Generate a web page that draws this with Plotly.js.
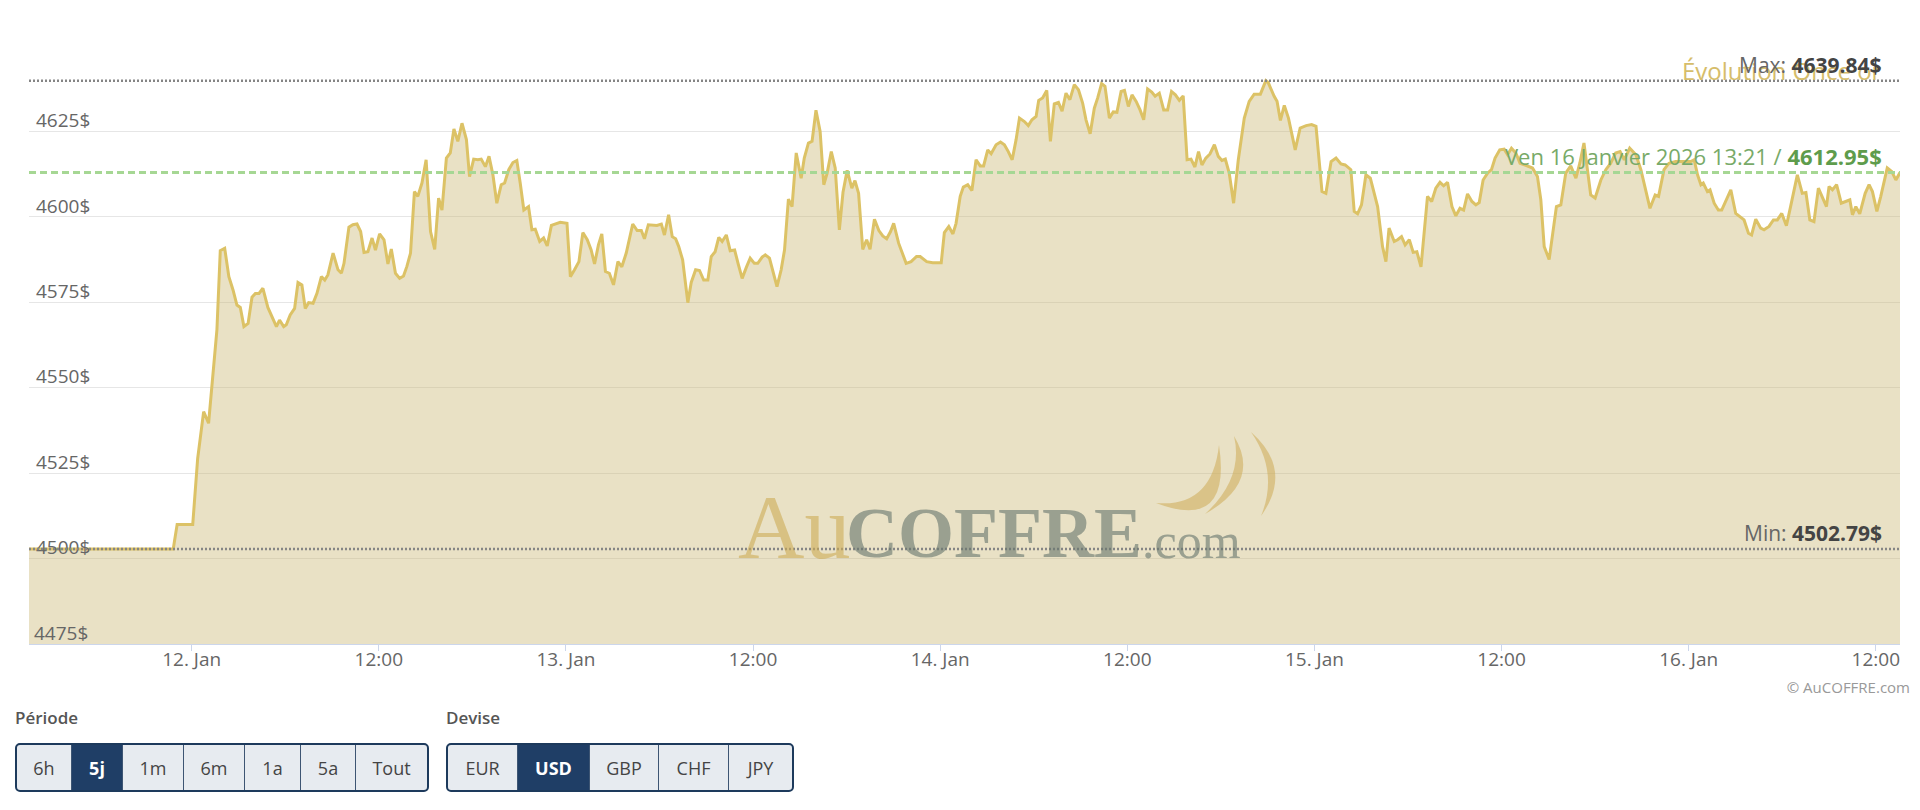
<!DOCTYPE html>
<html><head><meta charset="utf-8">
<script src="https://cdn.plot.ly/plotly-3.0.1.min.js"></script>
<style>
body{margin:0;width:1920px;height:810px;overflow:hidden;background:#fff;font-family:"Open Sans",sans-serif;}
#chart{position:absolute;left:0;top:0;width:1920px;height:810px;}
.lbl{position:absolute;top:706px;font-size:17px;font-weight:600;color:#555;}
.grp{position:absolute;top:743px;height:45px;border:2px solid #1d3a5c;border-radius:5px;display:flex;overflow:hidden;background:#e7ebf0;}
.grp div{display:flex;align-items:center;justify-content:center;font-size:18px;color:#444;border-left:1px solid #3d5573;box-sizing:border-box;height:45px;}
.grp div:first-child{border-left:none;}
.grp div.on{background:#1f3e66;color:#fff;font-weight:700;}
#copy{position:absolute;right:10px;top:677px;font-size:15px;color:#999;}
</style></head>
<body>
<div id="chart"></div>
<div class="lbl" style="left:15px">Période</div>
<div class="lbl" style="left:446px">Devise</div>
<div class="grp" id="g1" style="left:15px"></div>
<div class="grp" id="g2" style="left:446px"></div>
<div id="copy">© AuCOFFRE.com</div>
<script>
// ---- data ----
const times = [
'01-11 13:34','01-11 22:49','01-11 23:04','01-12 00:04','01-12 00:23','01-12 00:46','01-12 01:05','01-12 01:37','01-12 01:50','01-12 02:07',
'01-12 02:23','01-12 02:39','01-12 02:54','01-12 03:07','01-12 03:21','01-12 03:37','01-12 03:52','01-12 04:05','01-12 04:19','01-12 04:34',
'01-12 04:53','01-12 05:10','01-12 05:26','01-12 05:38','01-12 05:54','01-12 06:04','01-12 06:19','01-12 06:36','01-12 06:49','01-12 07:04',
'01-12 07:17','01-12 07:30','01-12 07:47','01-12 08:02','01-12 08:19','01-12 08:32','01-12 08:44','01-12 09:04','01-12 09:23','01-12 09:36',
'01-12 09:46','01-12 10:05','01-12 10:20','01-12 10:36','01-12 10:50','01-12 11:03','01-12 11:18','01-12 11:34','01-12 11:47','01-12 12:03',
'01-12 12:20','01-12 12:35','01-12 12:48','01-12 13:04','01-12 13:20','01-12 13:35','01-12 13:48','01-12 14:02','01-12 14:17','01-12 14:30',
'01-12 14:46','01-12 15:02','01-12 15:19','01-12 15:35','01-12 15:50','01-12 16:03','01-12 16:20','01-12 16:35','01-12 16:49','01-12 17:04',
'01-12 17:20','01-12 17:37','01-12 17:49','01-12 18:05','01-12 18:21','01-12 18:34','01-12 18:50','01-12 19:04','01-12 19:19','01-12 19:34',
'01-12 19:51','01-12 20:04','01-12 20:20','01-12 20:36','01-12 20:51','01-12 21:04','01-12 21:18','01-12 21:36','01-12 21:49','01-12 22:02',
'01-12 22:19','01-12 22:34','01-12 22:48','01-12 23:04','01-12 23:23','01-12 23:38',
'01-13 00:04','01-13 00:17','01-13 00:33','01-13 00:50','01-13 01:05','01-13 01:22','01-13 01:37','01-13 01:50','01-13 02:05','01-13 02:18',
'01-13 02:32','01-13 02:47','01-13 03:03','01-13 03:20','01-13 03:35','01-13 03:52','01-13 04:17','01-13 04:34','01-13 04:50','01-13 05:02',
'01-13 05:17','01-13 05:34','01-13 05:50','01-13 06:07','01-13 06:19','01-13 06:35','01-13 06:49','01-13 07:02','01-13 07:14','01-13 07:29',
'01-13 07:49','01-13 08:02','01-13 08:19','01-13 08:34','01-13 08:50','01-13 09:06','01-13 09:19','01-13 09:34','01-13 09:48','01-13 10:01',
'01-13 10:17','01-13 10:32','01-13 10:49','01-13 11:04','01-13 11:18','01-13 11:34','01-13 11:49','01-13 12:05','01-13 12:18','01-13 12:35',
'01-13 12:47','01-13 13:03','01-13 13:19','01-13 13:32','01-13 13:48','01-13 14:01','01-13 14:16','01-13 14:30','01-13 14:46','01-13 15:05',
'01-13 15:17','01-13 15:33','01-13 15:47','01-13 16:02','01-13 16:18','01-13 16:32','01-13 16:45','01-13 17:01','01-13 17:16','01-13 17:32',
'01-13 17:46','01-13 18:02','01-13 18:20','01-13 18:32','01-13 18:46','01-13 19:02','01-13 19:17','01-13 19:30','01-13 19:47','01-13 20:04',
'01-13 20:19','01-13 20:34','01-13 20:49','01-13 21:01','01-13 21:20','01-13 21:49','01-13 22:08','01-13 22:29','01-13 22:43','01-13 23:08',
'01-13 23:31',
'01-14 00:04','01-14 00:16','01-14 00:33','01-14 00:49','01-14 01:01','01-14 01:17','01-14 01:29','01-14 01:46','01-14 02:02','01-14 02:18',
'01-14 02:34','01-14 02:47','01-14 03:03','01-14 03:16','01-14 03:35','01-14 03:52','01-14 04:07','01-14 04:22','01-14 04:37','01-14 04:52',
'01-14 05:05','01-14 05:24','01-14 05:39','01-14 05:53','01-14 06:09','01-14 06:19','01-14 06:34','01-14 06:50','01-14 07:04','01-14 07:19',
'01-14 07:35','01-14 07:49','01-14 08:04','01-14 08:19','01-14 08:36','01-14 08:52','01-14 09:08','01-14 09:21','01-14 09:37','01-14 09:53',
'01-14 10:06','01-14 10:21','01-14 10:34','01-14 10:51','01-14 11:06','01-14 11:20','01-14 11:36','01-14 11:49','01-14 12:04','01-14 12:18',
'01-14 12:34','01-14 12:49','01-14 13:03','01-14 13:18','01-14 13:34','01-14 13:47','01-14 14:03','01-14 14:20','01-14 14:35','01-14 14:50',
'01-14 15:05','01-14 15:20','01-14 15:35','01-14 15:50','01-14 16:05','01-14 16:20','01-14 16:34','01-14 16:47','01-14 17:02','01-14 17:18',
'01-14 17:35','01-14 17:50','01-14 18:04','01-14 18:17','01-14 18:32','01-14 18:49','01-14 19:07','01-14 19:30','01-14 19:49','01-14 20:08',
'01-14 20:32','01-14 20:53','01-14 21:02','01-14 21:25','01-14 21:36','01-14 21:49','01-14 22:04','01-14 22:20','01-14 22:46','01-14 23:05',
'01-14 23:28','01-14 23:49',
'01-15 00:06','01-15 00:29','01-15 00:44','01-15 01:04','01-15 01:23','01-15 01:42','01-15 01:58','01-15 02:20','01-15 02:33','01-15 02:46',
'01-15 03:01','01-15 03:18','01-15 03:35','01-15 04:03','01-15 04:22','01-15 04:35','01-15 04:47','01-15 05:07','01-15 05:20','01-15 05:35',
'01-15 05:49','01-15 06:05','01-15 06:20','01-15 06:34','01-15 06:50','01-15 07:15','01-15 07:31','01-15 07:47','01-15 08:03','01-15 08:17',
'01-15 08:32','01-15 08:49','01-15 09:04','01-15 09:20','01-15 09:34','01-15 09:49','01-15 10:06','01-15 10:21','01-15 10:34','01-15 10:49',
'01-15 11:06','01-15 11:21','01-15 11:35','01-15 11:53','01-15 12:10','01-15 12:23','01-15 12:38','01-15 12:55','01-15 13:11','01-15 13:59',
'01-15 14:18','01-15 14:31','01-15 14:44','01-15 15:03','01-15 15:31','01-15 15:48','01-15 16:07','01-15 16:26','01-15 16:46','01-15 17:01',
'01-15 17:17','01-15 17:43','01-15 18:00','01-15 18:22','01-15 18:41','01-15 19:00','01-15 19:19','01-15 19:36','01-15 19:52','01-15 20:13',
'01-15 20:37','01-15 20:56','01-15 21:31','01-15 21:51','01-15 22:04','01-15 22:25','01-15 22:44','01-15 23:10','01-15 23:36',
'01-16 00:08','01-16 00:21','01-16 00:34','01-16 00:47','01-16 00:56','01-16 01:12','01-16 01:22','01-16 01:38','01-16 01:54','01-16 02:07',
'01-16 02:25','01-16 02:42','01-16 03:01','01-16 03:18','01-16 03:33','01-16 03:50','01-16 04:02','01-16 04:18','01-16 04:37','01-16 04:50',
'01-16 05:09','01-16 05:26','01-16 05:41','01-16 05:58','01-16 06:16','01-16 06:32','01-16 06:58','01-16 07:17','01-16 07:31','01-16 07:46',
'01-16 08:02','01-16 08:19','01-16 08:34','01-16 08:50','01-16 09:00','01-16 09:13','01-16 09:29','01-16 09:47','01-16 10:04','01-16 10:20',
'01-16 10:30','01-16 10:43','01-16 10:58','01-16 11:19','01-16 11:34','01-16 11:47','01-16 12:04','01-16 12:19','01-16 12:44','01-16 13:01',
'01-16 13:17','01-16 13:33'
];
const prices = [
4502.79,4502.79,4510,4510,4529.3,4543,4539.6,4566.9,4590.1,4590.8,
4582.5,4578.6,4574.2,4573.5,4567.9,4568.8,4576.5,4577.6,4577.6,4579.1,
4573.5,4570.8,4567.9,4569.8,4567.9,4568.4,4571.3,4573.2,4580.8,4580.1,
4573.2,4574.9,4574.7,4577.6,4582.5,4581.5,4583,4589.4,4584.5,4583.5,
4586.4,4597,4597.7,4597.9,4595.7,4589.6,4589.8,4593.8,4590.3,4595,
4593.3,4586.2,4590.6,4583.5,4582,4582.7,4585.5,4589.4,4607.4,4606,
4609.9,4616.7,4595.7,4590.5,4605.5,4602,4617.2,4618.7,4625.7,4622.1,
4627.4,4622.6,4611.8,4616.9,4616.7,4616.9,4614.7,4617.7,4612.3,4604,
4609.4,4609.9,4613.8,4615.9,4616.5,4609.9,4602,4603,4596.2,4596.4,
4592.8,4593.8,4591.5,4597.5,4598.1,4598.4,
4598.1,4582.5,4584.5,4586.9,4595.4,4593.3,4590.3,4586.2,4591.8,4595,
4584,4583.5,4580.1,4586.9,4585.4,4589.4,4597.9,4596,4596,4593.6,
4597.7,4597.5,4597.5,4597.9,4594.7,4600.6,4594.2,4593.6,4591.3,4587.4,
4574.9,4580.8,4584.5,4584.3,4581.5,4581.5,4588.4,4589.8,4594,4592.8,
4594.7,4590.1,4590.3,4585.9,4582,4585.2,4587.9,4586.4,4586.4,4588.2,
4588.9,4587.9,4583.5,4579.6,4584.5,4590.3,4605.2,4603,4618.7,4611.3,
4617.2,4621.6,4622.1,4631.2,4625,4609.4,4612.8,4619.1,4614.3,4596.2,
4607.2,4613.6,4608.4,4610.6,4606.9,4590.5,4593.3,4590.5,4599.3,4596,
4594.4,4593.6,4595.7,4598.1,4592.3,4586.4,4586.9,4588.4,4588.4,4586.9,
4586.6,
4586.6,4595.4,4597.2,4595,4598.1,4606,4608.7,4609.4,4607.7,4616.7,
4614.9,4614.9,4619.6,4618.5,4621.1,4621.9,4621.1,4619.1,4616.7,4622.6,
4628.9,4627.9,4626.7,4628.4,4629.4,4634.1,4634.8,4637,4622.1,4633.1,
4633.5,4630.9,4636.2,4634.3,4638.7,4637.2,4633.3,4628.4,4624.3,4631.8,
4634.8,4639,4638.2,4628.9,4630.7,4630.6,4636.7,4637,4632.3,4635.7,
4633.8,4631.3,4628.4,4637.4,4636.5,4635.3,4636.2,4631.3,4631.3,4636.7,
4635.7,4634.1,4635.4,4616.7,4616.9,4614.6,4619.1,4615.2,4617.2,4618.4,
4621.1,4617.7,4616.5,4616.9,4612.8,4604,4616.7,4628.9,4633.8,4635.9,
4635.9,4639.84,4639.3,4635.3,4633.8,4628.2,4632.6,4628.9,4619.6,4626,
4626.7,4627,
4626.5,4607.4,4606.9,4616.2,4617.2,4615.5,4615.2,4613.8,4601.6,4600.9,
4603.5,4612.3,4611.3,4603,4591.3,4586.9,4596.7,4592.8,4593.3,4594.2,
4591.8,4593.3,4589.6,4589.8,4585.4,4606,4604.5,4608.4,4610.1,4609.1,
4610.1,4603,4600.3,4602.5,4602,4606.7,4604.5,4603.5,4604.2,4610.8,
4612.8,4613.8,4617.2,4619.6,4619.8,4618.2,4620.1,4618.7,4615.7,4614.3,
4611.8,4605,4591.3,4587.5,4603,4603.5,4612.8,4614.9,4611.3,4615.7,
4621.6,4606.4,4605.5,4610.8,4613.8,4615.7,4618.7,4619.1,4616.7,4620.1,
4618.2,4613.8,4602.5,4606.4,4606,4613.8,4615.7,4616.2,4616.2,
4616.2,4616.7,4612.3,4609.4,4609.9,4607.4,4607.9,4604,4602,4602,
4605,4607.9,4601,4600.1,4599.1,4595.2,4594.7,4599.3,4596.7,4596.2,
4597.2,4599.1,4599.1,4601,4597.4,4603,4612.3,4606.9,4607.1,4599.1,
4598.6,4608.4,4606,4603,4608.9,4607.9,4609.4,4604,4604.5,4605,
4600.6,4603,4600.9,4606.9,4609.4,4607.4,4601.6,4606,4614.3,4613.3,
4610.8,4612.95
];
const xTickVals = ['2026-01-12 00:00','2026-01-12 12:00','2026-01-13 00:00','2026-01-13 12:00','2026-01-14 00:00','2026-01-14 12:00','2026-01-15 00:00','2026-01-15 12:00','2026-01-16 00:00','2026-01-16 12:00'];
const xTickText = ['12. Jan','12:00','13. Jan','12:00','14. Jan','12:00','15. Jan','12:00','16. Jan','12:00'];
const yTickVals = [4475,4500,4525,4550,4575,4600,4625,4650];
const yTickText = ['4475$','4500$','4525$','4550$','4575$','4600$','4625$',''];
const lastLabel = 'Ven 16 Janvier 2026 13:21';
const chartTitle = 'Évolution Once or';
const periods = ['6h','5j','1m','6m','1a','5a','Tout'];
const currencies = ['EUR','USD','GBP','CHF','JPY'];

// ---- buttons ----
const pW=[54,51,61,61,56,55,72], cW=[69,72,69,70,64];
function buildGroup(id, labels, widths, active){
  const g=document.getElementById(id);
  labels.forEach((t,i)=>{const d=document.createElement('div');d.textContent=t;d.style.width=widths[i]+'px';if(t===active)d.className='on';g.appendChild(d);});
}
buildGroup('g1',periods,pW,'5j');
buildGroup('g2',currencies,cW,'USD');

// ---- chart ----
const W=1920,H=810,L=29,R=20,T=46,B=166;
const pw=W-L-R, ph=H-T-B;
const px=x=>(x-L)/pw, py=y=>(H-B-y)/ph;
const x = times.map(t=>'2026-'+t);
const maxV=Math.max(...prices), minV=Math.min(...prices), lastV=prices[prices.length-1];

// the bottom tick label sits on the axis edge, where Plotly hides inside labels: draw it as an annotation
const axisTickText = yTickText.map((t,i)=> i===0 ? '' : t);

function crescent(p0,p1,cOut,cIn){
  return `M ${px(p0[0])},${py(p0[1])} Q ${px(cOut[0])},${py(cOut[1])} ${px(p1[0])},${py(p1[1])} Q ${px(cIn[0])},${py(cIn[1])} ${px(p0[0])},${py(p0[1])} Z`;
}
const arcCol='rgba(205,172,85,0.55)';
const shapes=[
  {type:'path',xref:'paper',yref:'paper',path:crescent([1156,503],[1219,445],[1232,532],[1212,508]),fillcolor:arcCol,line:{width:0},layer:'above'},
  {type:'path',xref:'paper',yref:'paper',path:crescent([1205,514],[1234,436],[1262,482],[1244,478]),fillcolor:arcCol,line:{width:0},layer:'above'},
  {type:'path',xref:'paper',yref:'paper',path:crescent([1251,432],[1261,516],[1294,470],[1279,472]),fillcolor:arcCol,line:{width:0},layer:'above'},
  {type:'line',xref:'paper',x0:0,x1:1,yref:'y',y0:maxV,y1:maxV,line:{color:'#858585',width:2.5,dash:'2px,2px'}},
  {type:'line',xref:'paper',x0:0,x1:1,yref:'y',y0:minV,y1:minV,line:{color:'#858585',width:2.5,dash:'2px,2px'}},
  {type:'line',xref:'paper',x0:0,x1:1,yref:'y',y0:lastV,y1:lastV,line:{color:'#a6d794',width:3,dash:'7px,4px'}}
];
const rx=px(1884);
const annotations=[
  {xref:'paper',yref:'paper',x:px(736),y:py(527),xanchor:'left',yanchor:'middle',showarrow:false,text:'Au',font:{family:'Liberation Serif',size:92,color:'rgba(205,172,85,0.6)'}},
  {xref:'paper',yref:'paper',x:px(844),y:py(533),xanchor:'left',yanchor:'middle',showarrow:false,text:'<b>COFFRE</b>',font:{family:'Liberation Serif',size:72,color:'rgba(105,120,112,0.62)'}},
  {xref:'paper',yref:'paper',x:px(1140),y:py(541),xanchor:'left',yanchor:'middle',showarrow:false,text:'.com',font:{family:'Liberation Serif',size:50,color:'rgba(105,120,112,0.62)'}},
  {xref:'paper',yref:'y',x:px(32),y:yTickVals[0],xanchor:'left',yanchor:'middle',yshift:11,showarrow:false,text:yTickText[0],font:{family:'Open Sans',size:19,color:'#666'}},
  {xref:'paper',yref:'paper',x:rx,y:py(71),xanchor:'right',yanchor:'middle',showarrow:false,text:chartTitle,font:{family:'Open Sans',size:24,color:'#d6bd6a'}},
  {xref:'paper',yref:'y',x:rx,y:maxV,xanchor:'right',yanchor:'bottom',showarrow:false,text:'Max: <span style="color:#444"><b>'+maxV.toFixed(2)+'$</b></span>',font:{family:'Open Sans',size:21,color:'#666'}},
  {xref:'paper',yref:'y',x:rx,y:minV,xanchor:'right',yanchor:'bottom',showarrow:false,text:'Min: <span style="color:#444"><b>'+minV.toFixed(2)+'$</b></span>',font:{family:'Open Sans',size:21,color:'#666'}},
  {xref:'paper',yref:'y',x:rx,y:lastV,xanchor:'right',yanchor:'bottom',showarrow:false,text:lastLabel+' / <span style="color:#5e9c4c"><b>'+lastV.toFixed(2)+'$</b></span>',font:{family:'Open Sans',size:22,color:'#78aa68'}}
];

const trace={x:x,y:prices,type:'scatter',mode:'lines',line:{color:'#dcc266',width:3},fill:'tozeroy',fillcolor:'rgba(200,180,110,0.4)',hoverinfo:'skip'};

const layout={
  width:W,height:H,margin:{l:L,r:R,t:T,b:B},
  paper_bgcolor:'#fff',plot_bgcolor:'#fff',showlegend:false,hovermode:false,
  font:{family:'Open Sans',color:'#666'},
  xaxis:{type:'date',range:['2026-01-11 13:34','2026-01-16 13:33'],tickmode:'array',tickvals:xTickVals,ticktext:xTickText,
    showgrid:false,zeroline:false,showline:true,linecolor:'#ccd6eb',linewidth:1,ticks:'outside',ticklen:6,tickcolor:'#ccd6eb',tickwidth:1,
    ticklabelstandoff:-8,tickfont:{family:'Open Sans',size:19,color:'#666'}},
  yaxis:{range:[4475,4650],tickmode:'array',tickvals:yTickVals,ticktext:axisTickText,showgrid:true,gridcolor:'#e6e6e6',gridwidth:1,
    zeroline:false,showline:false,ticks:'',ticklabelposition:'inside',ticklabelshift:-11,ticklabelstandoff:4,
    tickfont:{family:'Open Sans',size:19,color:'#666'}},
  shapes:shapes,annotations:annotations
};
Plotly.newPlot('chart',[trace],layout,{displayModeBar:false,staticPlot:true});
</script>
</body></html>
